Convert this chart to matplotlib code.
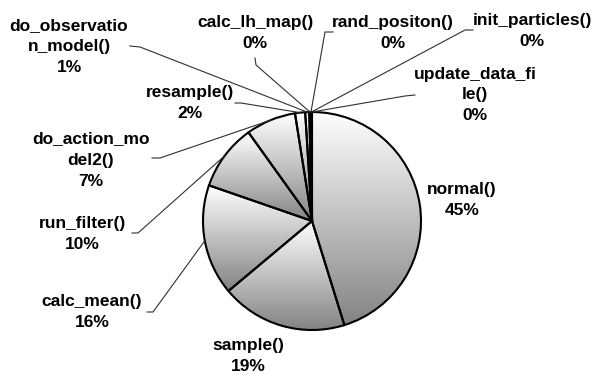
import matplotlib.pyplot as plt
import numpy as np
from matplotlib.colors import LinearSegmentedColormap

# function names and their share of run time (%), clockwise from 12 o'clock
names = ['normal()', 'sample()', 'calc_mean()', 'run_filter()',
         'do_action_mo\ndel2()', 'resample()', 'do_observatio\nn_model()',
         'calc_lh_map()', 'rand_positon()', 'init_particles()',
         'update_data_fi\nle()']
shares = [45.2, 18.7, 16.4, 9.8, 7.4, 1.5, 0.6, 0.2, 0.1, 0.05, 0.05]

# layout in pixels of the 596x374 picture
W, H = 596, 374
cx, cy, R = 312, 221, 109
label_pos = [(462, 200), (248, 356), (92, 312), (82, 234), (91, 160),
             (190, 103), (69, 47), (255, 33), (393, 33), (532, 31), (475, 95)]
# leader line: (end at label, elbow) or None
leaders = [None, None, ((147, 312), (153, 312)), ((132, 233), (138, 233)),
           ((152, 158), (160, 158)), ((235, 103), (241, 103)),
           ((130, 46), (140, 47)), ((255, 58), (256, 65)),
           ((333, 32), (325, 32)), ((473, 30), (465, 30)),
           ((415, 95), (405, 96))]


def px(x, y):
    return (x - cx) / R, (cy - y) / R


fig = plt.figure(figsize=(W / 100, H / 100), dpi=100)
ax = fig.add_axes([0, 0, 1, 1])

wedges, _ = ax.pie(shares, startangle=90, counterclock=False, radius=1,
                   center=(0, 0),
                   wedgeprops=dict(facecolor='none', edgecolor='black',
                                   linewidth=1.5, zorder=3))

cmap = LinearSegmentedColormap.from_list('g', ['#838383', '#ffffff'])
grad = np.linspace(1, 0, 256).reshape(-1, 1)
for w in wedges:
    t = np.radians(np.linspace(w.theta1, w.theta2, 100))
    ys = np.concatenate([np.sin(t) * w.r, [0]])
    im = ax.imshow(grad, cmap=cmap, vmin=0, vmax=1, aspect='auto',
                   extent=[-1, 1, ys.min(), ys.max()], zorder=2)
    im.set_clip_path(w)

for i, w in enumerate(wedges):
    pct = int(shares[i] + 0.5)
    ax.text(*px(*label_pos[i]), f'{names[i]}\n{pct}%', ha='center',
            va='center', fontsize=12.5, fontweight='bold',
            family='Liberation Sans', linespacing=1.5, zorder=5)
    if leaders[i] is None:
        continue
    mid = np.radians((w.theta1 + w.theta2) / 2)
    end, elbow = leaders[i]
    xs = [px(*end)[0], px(*elbow)[0], np.cos(mid)]
    ys = [px(*end)[1], px(*elbow)[1], np.sin(mid)]
    ax.plot(xs, ys, color='#303030', lw=0.8, zorder=4)

ax.set_xlim(px(0, 0)[0], px(W, 0)[0])
ax.set_ylim(px(0, H)[1], px(0, 0)[1])
ax.set_aspect('auto')
ax.axis('off')

fig.savefig('out.png', dpi=100)
